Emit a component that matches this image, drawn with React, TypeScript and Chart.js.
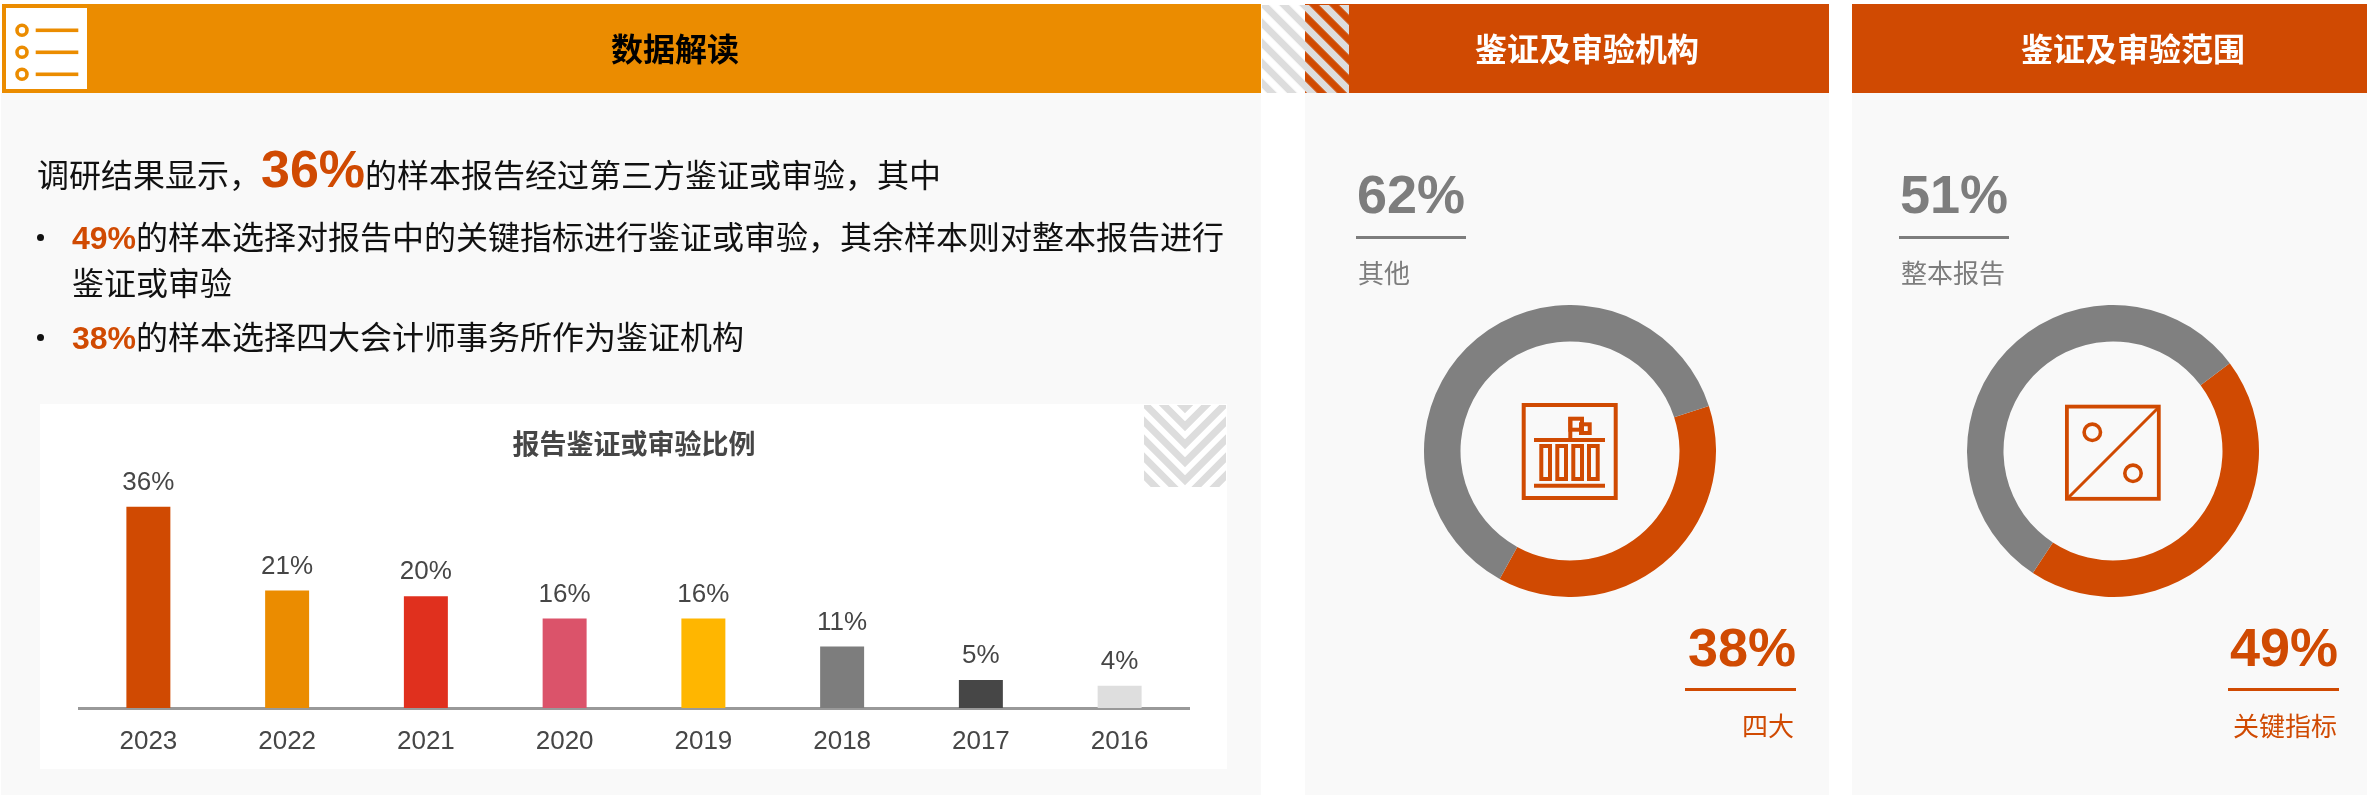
import React, { useEffect, useRef } from "react";
import { Chart, registerables } from "chart.js";

Chart.register(...registerables);

const FONT = '"Liberation Sans","Noto Sans CJK SC",sans-serif';
const ORANGE = "#D04A02";
const AMBER = "#EB8C00";
const GREY = "#7D7D7D";
const DARK = "#464646";
const PANEL = "#F9F9F9";

const years = ["2023", "2022", "2021", "2020", "2019", "2018", "2017", "2016"];
const assuranceShare = [36, 21, 20, 16, 16, 11, 5, 4];
const barColors = ["#D04A02", "#EB8C00", "#E0301E", "#DB536A", "#FFB600", "#7D7D7D", "#464646", "#DEDEDE"];
const barTitle = "报告鉴证或审验比例";

const institutionLabels = ["四大", "其他"];
const institutionValues = [38, 62];
// Arc sizes as drawn in the picture; its printed labels are 49% / 51%.
const scopeLabels = ["关键指标", "整本报告"];
const scopeArcs = [44.5, 55.5];

function BarChart() {
  const ref = useRef<HTMLCanvasElement>(null);
  useEffect(() => {
    const labelPlugin = {
      id: "valueLabels",
      afterDatasetsDraw(chart: any) {
        const { ctx } = chart;
        const meta = chart.getDatasetMeta(0);
        ctx.save();
        ctx.font = `26px ${FONT}`;
        ctx.fillStyle = DARK;
        ctx.textAlign = "center";
        ctx.textBaseline = "alphabetic";
        meta.data.forEach((bar: any, i: number) => {
          ctx.fillText(`${assuranceShare[i]}%`, bar.x, bar.y - 17);
        });
        ctx.restore();
      },
    };
    const chart = new Chart(ref.current!, {
      type: "bar",
      data: {
        labels: years,
        datasets: [{ data: assuranceShare, backgroundColor: barColors, barPercentage: 0.317, categoryPercentage: 1 }],
      },
      options: {
        animation: false,
        responsive: false,
        layout: { padding: { left: 39, right: 38, top: 0, bottom: 0 } },
        plugins: {
          legend: { display: false },
          tooltip: { enabled: false },
          title: {
            display: true,
            text: barTitle,
            color: DARK,
            font: { family: FONT, size: 27, weight: "bold", lineHeight: 1.2 },
            padding: { top: 26, bottom: 22 },
          },
        },
        scales: {
          x: {
            grid: { display: false, drawTicks: false },
            border: { display: true, color: "#999999", width: 3 },
            ticks: { color: DARK, font: { family: FONT, size: 26 }, padding: 18, maxRotation: 0 },
            afterFit: (s: any) => {
              s.height = 61;
            },
          },
          y: { display: false, min: 0, max: 40 },
        },
      },
      plugins: [labelPlugin],
    } as any);
    return () => chart.destroy();
  }, []);
  return <canvas ref={ref} width={1187} height={365} style={{ position: "absolute", left: 40, top: 404 }} />;
}

function Donut({ left, labels, values, rotation }: { left: number; labels: string[]; values: number[]; rotation: number }) {
  const ref = useRef<HTMLCanvasElement>(null);
  useEffect(() => {
    const chart = new Chart(ref.current!, {
      type: "doughnut",
      data: { labels, datasets: [{ data: values, backgroundColor: [ORANGE, "#808080"], borderWidth: 0 }] },
      options: {
        animation: false,
        responsive: false,
        cutout: "75%",
        rotation,
        plugins: { legend: { display: false }, tooltip: { enabled: false } },
      },
    } as any);
    return () => chart.destroy();
  }, []);
  return <canvas ref={ref} width={292} height={292} style={{ position: "absolute", left, top: 305 }} />;
}

// Places one line of text by its vertical centre.
function T({ x, y, size, color, bold, align, children }: any) {
  const style: React.CSSProperties = {
    position: "absolute",
    top: y - size,
    height: size * 2,
    lineHeight: `${size * 2}px`,
    fontSize: size,
    color,
    fontWeight: bold ? 700 : 400,
    whiteSpace: "nowrap",
    fontFamily: FONT,
  };
  if (align === "center") {
    style.left = x - 500;
    style.width = 1000;
    style.textAlign = "center";
  } else if (align === "right") {
    style.right = 2367 - x;
    style.textAlign = "right";
  } else {
    style.left = x;
  }
  return <div style={style}>{children}</div>;
}

function Box({ x, y, w, h, c, round }: { x: number; y: number; w: number; h: number; c: string; round?: boolean }) {
  return (
    <div style={{ position: "absolute", left: x, top: y, width: w, height: h, background: c, borderRadius: round ? "50%" : 0 }} />
  );
}

function Decor() {
  const chevrons = [408.3, 426.3, 444.3, 462.3, 480.3, 498.3, 516.3, 534.3];
  const s = "#DDDDDD";
  return (
    <svg width={2367} height={795} style={{ position: "absolute", left: 0, top: 0 }}>
      <defs>
        <pattern id="stripe" width={14.142} height={14.142} patternUnits="userSpaceOnUse" patternTransform="translate(0,11) rotate(-45)">
          <rect x={3.6} y={0} width={7} height={14.142} fill={s} />
        </pattern>
        <clipPath id="chev">
          <rect x={1144} y={405} width={82} height={82} />
        </clipPath>
      </defs>
      <rect x={1262} y={4} width={43} height={89} fill="#fff" />
      <rect x={1262} y={5} width={87} height={88} fill="url(#stripe)" />
      <g clipPath="url(#chev)" fill="none" stroke={s} strokeWidth={7} strokeMiterlimit={4}>
        {chevrons.map((a) => (
          <polyline key={a} points={`${1185 - 120},${a - 120} 1185,${a} ${1185 + 120},${a - 120}`} />
        ))}
      </g>
      {/* list icon */}
      <rect x={4} y={6} width={85} height={85} fill="#fff" stroke={AMBER} strokeWidth={4} />
      {[30.3, 52.3, 74.3].map((y) => (
        <g key={y}>
          <circle cx={22} cy={y} r={5} fill="#fff" stroke={AMBER} strokeWidth={3.6} />
          <rect x={35.7} y={y - 1.8} width={42.6} height={3.6} fill={AMBER} />
        </g>
      ))}
      {/* institution icon */}
      <g fill="none" stroke={ORANGE}>
        <rect x={1523.7} y={405} width={92} height={93} strokeWidth={4} />
        <line x1={1534} x2={1605} y1={440} y2={440} strokeWidth={4} />
        <line x1={1534} x2={1605} y1={485.7} y2={485.7} strokeWidth={4} />
        {[1541.3, 1557.3, 1573.3, 1589].map((x) => (
          <rect key={x} x={x} y={446} width={8.7} height={33} strokeWidth={4} />
        ))}
        <line x1={1570.3} x2={1570.3} y1={417} y2={438} strokeWidth={4} />
        <rect x={1570.3} y={418.7} width={11.7} height={11} strokeWidth={4} />
        <rect x={1581} y={424.3} width={8.7} height={8.7} strokeWidth={4} />
      </g>
      {/* scope icon */}
      <g fill="none" stroke={ORANGE}>
        <rect x={2066.9} y={406.6} width={91.9} height={92.2} strokeWidth={3.8} />
        <line x1={2067} x2={2159} y1={499} y2={407} strokeWidth={3} />
        <circle cx={2092.3} cy={432.3} r={8.2} strokeWidth={3.6} />
        <circle cx={2133} cy={473.3} r={8.2} strokeWidth={3.6} />
      </g>
    </svg>
  );
}

export default function App() {
  useEffect(() => {
    document.body.style.margin = "0";
    document.body.style.overflow = "hidden";
  }, []);
  return (
    <div style={{ position: "relative", width: 2367, height: 795, background: "#fff", overflow: "hidden" }}>
      <Box x={1} y={93} w={1260} h={702} c={PANEL} />
      <Box x={1305} y={93} w={524} h={702} c={PANEL} />
      <Box x={1852} y={93} w={515} h={702} c={PANEL} />
      <Box x={2} y={4} w={1259} h={89} c={AMBER} />
      <Box x={1305} y={4} w={524} h={89} c={ORANGE} />
      <Box x={1852} y={4} w={515} h={89} c={ORANGE} />
      <Box x={40} y={404} w={1187} h={365} c="#fff" />
      <BarChart />
      <Donut left={1424} labels={institutionLabels} values={institutionValues} rotation={72} />
      <Donut left={1967} labels={scopeLabels} values={scopeArcs} rotation={53.1} />
      <Decor />

      <T x={675} y={50} size={32} color="#000" bold align="center">数据解读</T>
      <T x={1587} y={50} size={32} color="#fff" bold align="center">鉴证及审验机构</T>
      <T x={2133} y={50} size={32} color="#fff" bold align="center">鉴证及审验范围</T>

      <T x={37} y={169} size={32} color="#111">
        调研结果显示，
        <span style={{ color: ORANGE, fontWeight: 700, fontSize: 52 }}>36%</span>
        的样本报告经过第三方鉴证或审验，其中
      </T>
      <Box x={37} y={234} w={7} h={7} c="#111" round />
      <T x={72} y={238} size={32} color="#111">
        <span style={{ color: ORANGE, fontWeight: 700 }}>49%</span>
        的样本选择对报告中的关键指标进行鉴证或审验，其余样本则对整本报告进行
      </T>
      <T x={72} y={284} size={32} color="#111">鉴证或审验</T>
      <Box x={37} y={334} w={7} h={7} c="#111" round />
      <T x={72} y={338} size={32} color="#111">
        <span style={{ color: ORANGE, fontWeight: 700 }}>38%</span>
        的样本选择四大会计师事务所作为鉴证机构
      </T>

      <T x={1357} y={194} size={54} color={GREY} bold>62%</T>
      <Box x={1356} y={236} w={110} h={3} c={GREY} />
      <T x={1358} y={274} size={26} color={GREY}>其他</T>
      <T x={1796} y={647} size={54} color={ORANGE} bold align="right">38%</T>
      <Box x={1685} y={688} w={111} h={3} c={ORANGE} />
      <T x={1794} y={727} size={26} color={ORANGE} align="right">四大</T>

      <T x={1900} y={194} size={54} color={GREY} bold>51%</T>
      <Box x={1899} y={236} w={110} h={3} c={GREY} />
      <T x={1901} y={274} size={26} color={GREY}>整本报告</T>
      <T x={2338} y={647} size={54} color={ORANGE} bold align="right">49%</T>
      <Box x={2228} y={688} w={111} h={3} c={ORANGE} />
      <T x={2337} y={727} size={26} color={ORANGE} align="right">关键指标</T>
    </div>
  );
}
